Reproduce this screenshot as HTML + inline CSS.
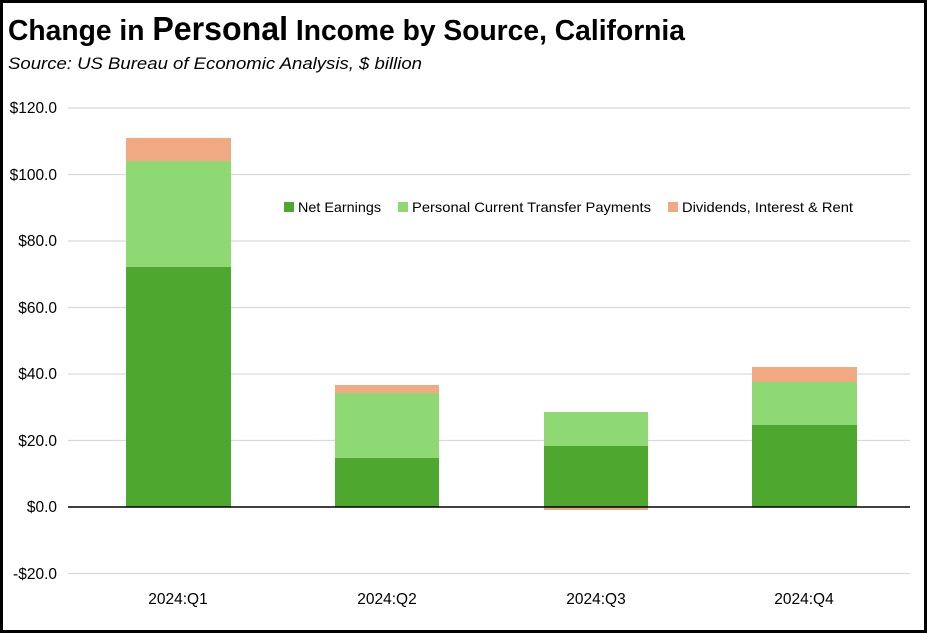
<!DOCTYPE html>
<html><head><meta charset="utf-8"><style>
html,body{margin:0;padding:0;background:#fff}
svg{display:block}
text{font-family:"Liberation Sans Narrow","Liberation Sans",sans-serif}
</style></head><body>
<svg width="927" height="633" viewBox="0 0 927 633" xmlns="http://www.w3.org/2000/svg">
<rect x="1.5" y="1.5" width="924" height="630" fill="#fff" stroke="#000" stroke-width="3"/>
<text x="8" y="40" font-size="29" font-weight="bold" textLength="677" lengthAdjust="spacingAndGlyphs">Change in <tspan font-size="33">Personal</tspan> Income by Source, California</text>
<text x="8" y="69" font-size="17" font-style="italic" textLength="414" lengthAdjust="spacingAndGlyphs">Source:  US Bureau of Economic Analysis, $ billion</text>
<g stroke="#d9d9d9" stroke-width="1.3">
<line x1="68" x2="910" y1="108" y2="108"/>
<line x1="68" x2="910" y1="174.5" y2="174.5"/>
<line x1="68" x2="910" y1="241" y2="241"/>
<line x1="68" x2="910" y1="307.5" y2="307.5"/>
<line x1="68" x2="910" y1="374" y2="374"/>
<line x1="68" x2="910" y1="440.5" y2="440.5"/>
<line x1="68" x2="910" y1="573.5" y2="573.5"/>
</g>
<g font-size="15.5" text-anchor="end" fill="#000">
<text x="57" y="113">$120.0</text>
<text x="57" y="180">$100.0</text>
<text x="57" y="246">$80.0</text>
<text x="57" y="313">$60.0</text>
<text x="57" y="379">$40.0</text>
<text x="57" y="446">$20.0</text>
<text x="57" y="512">$0.0</text>
<text x="57" y="579">-$20.0</text>
</g>
<rect x="126" y="267" width="105" height="240" fill="#4ea72e"/>
<rect x="126" y="161" width="105" height="106" fill="#8ed973"/>
<rect x="126" y="138" width="105" height="23" fill="#f1a983"/>
<rect x="335" y="458" width="104" height="49" fill="#4ea72e"/>
<rect x="335" y="393" width="104" height="65" fill="#8ed973"/>
<rect x="335" y="385" width="104" height="8" fill="#f1a983"/>
<rect x="544" y="446" width="104" height="61" fill="#4ea72e"/>
<rect x="544" y="412" width="104" height="34" fill="#8ed973"/>
<rect x="544" y="507" width="104" height="3" fill="#f1a983"/>
<rect x="752" y="425" width="105" height="82" fill="#4ea72e"/>
<rect x="752" y="382" width="105" height="43" fill="#8ed973"/>
<rect x="752" y="367" width="105" height="15" fill="#f1a983"/>
<line x1="68" x2="910" y1="507" y2="507" stroke="#000" stroke-width="1.5"/>
<g font-size="15.5" text-anchor="middle">
<text x="178" y="604">2024:Q1</text>
<text x="387" y="604">2024:Q2</text>
<text x="596" y="604">2024:Q3</text>
<text x="804" y="604">2024:Q4</text>
</g>
<g font-size="14">
<rect x="284" y="202" width="10" height="10" fill="#4ea72e"/>
<text x="298" y="212" textLength="83" lengthAdjust="spacingAndGlyphs">Net Earnings</text>
<rect x="398" y="202" width="10" height="10" fill="#8ed973"/>
<text x="412" y="212" textLength="239" lengthAdjust="spacingAndGlyphs">Personal Current Transfer Payments</text>
<rect x="668" y="202" width="10" height="10" fill="#f1a983"/>
<text x="682" y="212" textLength="171" lengthAdjust="spacingAndGlyphs">Dividends, Interest &amp; Rent</text>
</g>
</svg>
</body></html>
